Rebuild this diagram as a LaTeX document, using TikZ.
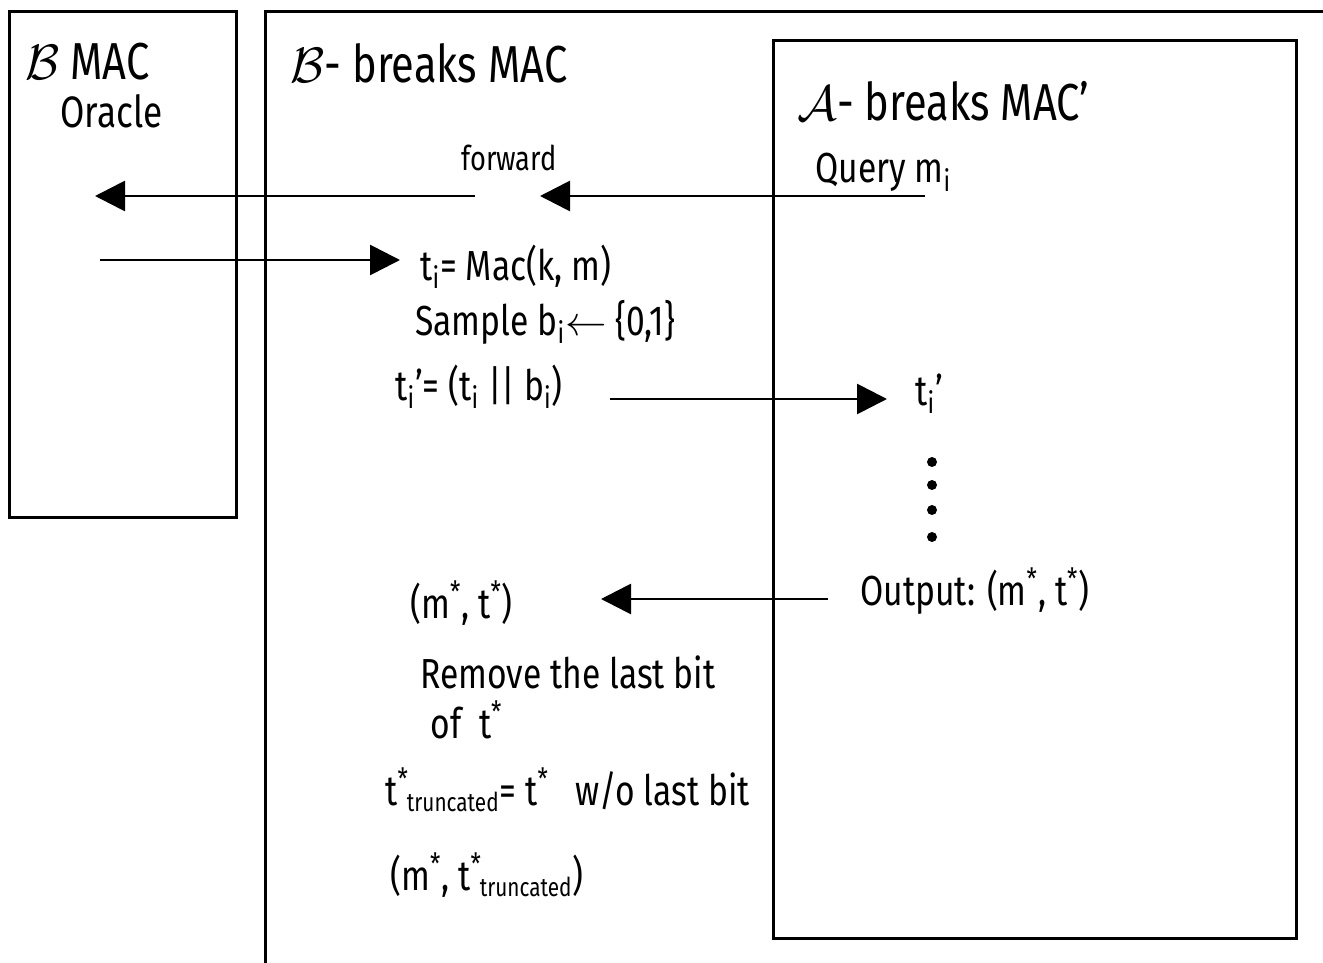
\documentclass[tikz,border=0pt]{standalone}
\usepackage{fontspec}
\setmainfont{Fira Sans}[FakeStretch=0.8]
\usetikzlibrary{arrows.meta}
\newcommand{\trsub}{t\textsuperscript{*}\kern-1pt\textsubscript{\fontsize{13}{15}\selectfont truncated}}
\begin{document}
\begin{tikzpicture}[x=0.5pt,y=-0.5pt,
  frame/.style={line width=1.5pt},
  conn/.style={line width=1.4pt,-{Triangle[length=15pt,width=15pt]}},
  title/.style={anchor=base west,inner sep=0pt,font=\fontsize{26}{30}\selectfont},
  txt/.style={anchor=base west,inner sep=0pt,font=\fontsize{21}{25}\selectfont},
  small/.style={anchor=base,inner sep=0pt,font=\fontsize{17}{20}\selectfont},
  dotmark/.style={circle,fill=black,inner sep=0pt,minimum size=5pt}]
\useasboundingbox (0,0) rectangle (1323,963);
% frames
\draw[frame] (9,12) rectangle (236,517);
\draw[frame] (265,963) -- (265,12) -- (1323,12);
\draw[frame] (773,41) rectangle (1296,938);
% titles
\node[title] (oraclea) at (25,80) {$\mathcal{B}$ MAC};
\node[title,font=\fontsize{22}{26}\selectfont] (oracleb) at (60,128) {Oracle};
\node[title] (btitle) at (290,83) {$\mathcal{B}$- breaks MAC};
\node[title] (atitle) at (797,120) {$\mathcal{A}$- breaks MAC'};
% texts
\node[small] (fwd) at (509,170) {forward};
\node[txt] (query) at (815,183) {Query m\textsubscript{i}};
\node[txt] (mac) at (420,280) {t\textsubscript{i}= Mac(k,\ m)};
\node[txt] (sample) at (415,335) {Sample b\textsubscript{i}$\leftarrow$ \{0,1\}};
\node[txt] (tprime) at (395,400) {t\textsubscript{i}'= (t\textsubscript{i} || b\textsubscript{i})};
\node[txt] (trecv) at (915,405) {t\textsubscript{i}'};
\node[txt] (mtb) at (410,618) {(m\textsuperscript{*}, t\textsuperscript{*})};
\node[txt] (output) at (860,605) {Output: (m\textsuperscript{*},\ t\textsuperscript{*})};
\node[txt] (remove) at (420,688) {Remove the last bit};
\node[txt] (oft) at (430,738) {of\ \ t\textsuperscript{*}};
\node[txt] (trunc) at (385,805) {\trsub= t\textsuperscript{*}\ \ \ w/o last bit};
\node[txt] (final) at (390,890) {(m\textsuperscript{*}, \trsub)};
% dots
\node[dotmark] (d1) at (932,462) {};
\node[dotmark] (d2) at (932,485) {};
\node[dotmark] (d3) at (932,510) {};
\node[dotmark] (d4) at (932,537) {};
% connector end points
\coordinate (q0) at (925,196);
\coordinate (q1) at (540,196);
\coordinate (f0) at (475,196);
\coordinate (f1) at (95,196);
\coordinate (r0) at (100,260);
\coordinate (r1) at (400,260);
\coordinate (s0) at (610,399);
\coordinate (s1) at (887,399);
\coordinate (o0) at (828,599);
\coordinate (o1) at (601,599);
\draw[conn] (q0) -- (q1);
\draw[conn] (f0) -- (f1);
\draw[conn] (r0) -- (r1);
\draw[conn] (s0) -- (s1);
\draw[conn] (o0) -- (o1);
\end{tikzpicture}
\end{document}
